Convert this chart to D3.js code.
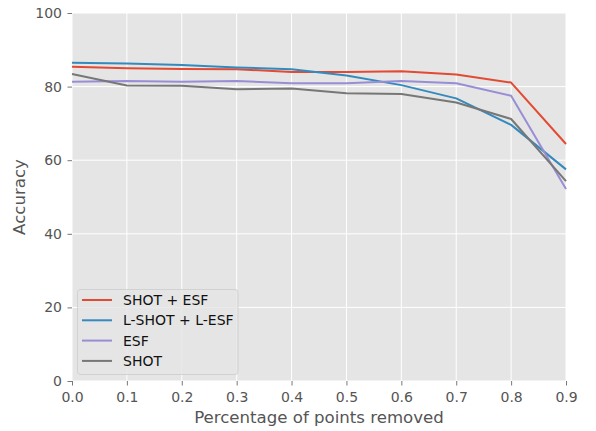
<!DOCTYPE html>
<html><head><meta charset="utf-8">
<script src="https://cdn.jsdelivr.net/npm/d3@7"></script>
<style>body{margin:0;background:#fff;}text{font-family:"DejaVu Sans",sans-serif;}</style>
</head><body>
<svg id="c" width="596" height="431"></svg>
<script>
const xValues = [0.0,0.1,0.2,0.3,0.4,0.5,0.6,0.7,0.8,0.9];
const shotEsf  = [85.4,85.0,84.8,84.7,84.0,84.0,84.2,83.3,81.1,64.4];
const lShotLEsf= [86.5,86.3,85.9,85.2,84.7,83.0,80.4,76.8,69.6,57.5];
const esf      = [81.3,81.5,81.3,81.5,80.9,80.9,81.5,80.9,77.5,52.2];
const shot     = [83.4,80.3,80.2,79.3,79.5,78.2,78.0,75.7,71.2,54.3];
const seriesNames = ["SHOT + ESF","L-SHOT + L-ESF","ESF","SHOT"];
const xTicks = [0.0,0.1,0.2,0.3,0.4,0.5,0.6,0.7,0.8,0.9];
const yTicks = [0,20,40,60,80,100];

const colors = ["#E24A33","#348ABD","#988ED5","#777777"];
const seriesData = [shotEsf,lShotLEsf,esf,shot];

const svg = d3.select("#c");
const L=72,R=566,T=13,B=381;
const x = d3.scaleLinear().domain([0,0.9]).range([L,R]);
const y = d3.scaleLinear().domain([0,100]).range([B,T]);

svg.append("rect").attr("x",L).attr("y",T).attr("width",R-L).attr("height",B-T).attr("fill","#E5E5E5");

// grid
svg.append("g").selectAll("line").data(xTicks).join("line")
  .attr("x1",d=>x(d)).attr("x2",d=>x(d)).attr("y1",T).attr("y2",B)
  .attr("stroke","#fff").attr("stroke-width",1);
svg.append("g").selectAll("line").data(yTicks).join("line")
  .attr("y1",d=>y(d)).attr("y2",d=>y(d)).attr("x1",L).attr("x2",R)
  .attr("stroke","#fff").attr("stroke-width",1);

// axes
const xAxis = d3.axisBottom(x).tickValues(xTicks).tickFormat(d3.format(".1f")).tickSizeOuter(0).tickSizeInner(4.5).tickPadding(7);
const yAxis = d3.axisLeft(y).tickValues(yTicks).tickFormat(d3.format("d")).tickSizeOuter(0).tickSizeInner(4.5).tickPadding(5.5);
const gx = svg.append("g").attr("transform",`translate(0,${B})`).call(xAxis);
const gy = svg.append("g").attr("transform",`translate(${L},0)`).call(yAxis);
[gx,gy].forEach(g=>{
  g.select(".domain").remove();
  g.selectAll(".tick line").attr("stroke","#555").attr("stroke-width",0.8);
  g.selectAll(".tick text").attr("fill","#555").attr("font-size","14px").attr("font-family","DejaVu Sans");
});

// lines
const line = d3.line().x((d,i)=>x(xValues[i])).y(d=>y(d));
seriesData.forEach((s,k)=>{
  svg.append("path").datum(s).attr("d",line).attr("fill","none")
    .attr("stroke",colors[k]).attr("stroke-width",2).attr("stroke-linejoin","round");
});

// labels
svg.append("text").attr("x",(L+R)/2).attr("y",422.7).attr("text-anchor","middle")
  .attr("fill","#555").attr("font-size","16.6px").text("Percentage of points removed");
svg.append("text").attr("transform",`translate(24.5,${(T+B)/2}) rotate(-90)`).attr("text-anchor","middle")
  .attr("fill","#555").attr("font-size","16.6px").text("Accuracy");

// legend
const lg = svg.append("g");
lg.append("rect").attr("x",77.5).attr("y",289.5).attr("width",160.5).attr("height",85).attr("rx",3)
  .attr("fill","#E5E5E5").attr("fill-opacity",0.8).attr("stroke","#ccc").attr("stroke-width",0.8);
seriesNames.forEach((n,k)=>{
  const yy = 300 + k*20.3;
  lg.append("line").attr("x1",82).attr("x2",112).attr("y1",yy).attr("y2",yy)
    .attr("stroke",colors[k]).attr("stroke-width",2);
  lg.append("text").attr("x",123).attr("y",yy).attr("dy","0.36em")
    .attr("fill","#111").attr("font-size","14px").text(n);
});
</script>
</body></html>
